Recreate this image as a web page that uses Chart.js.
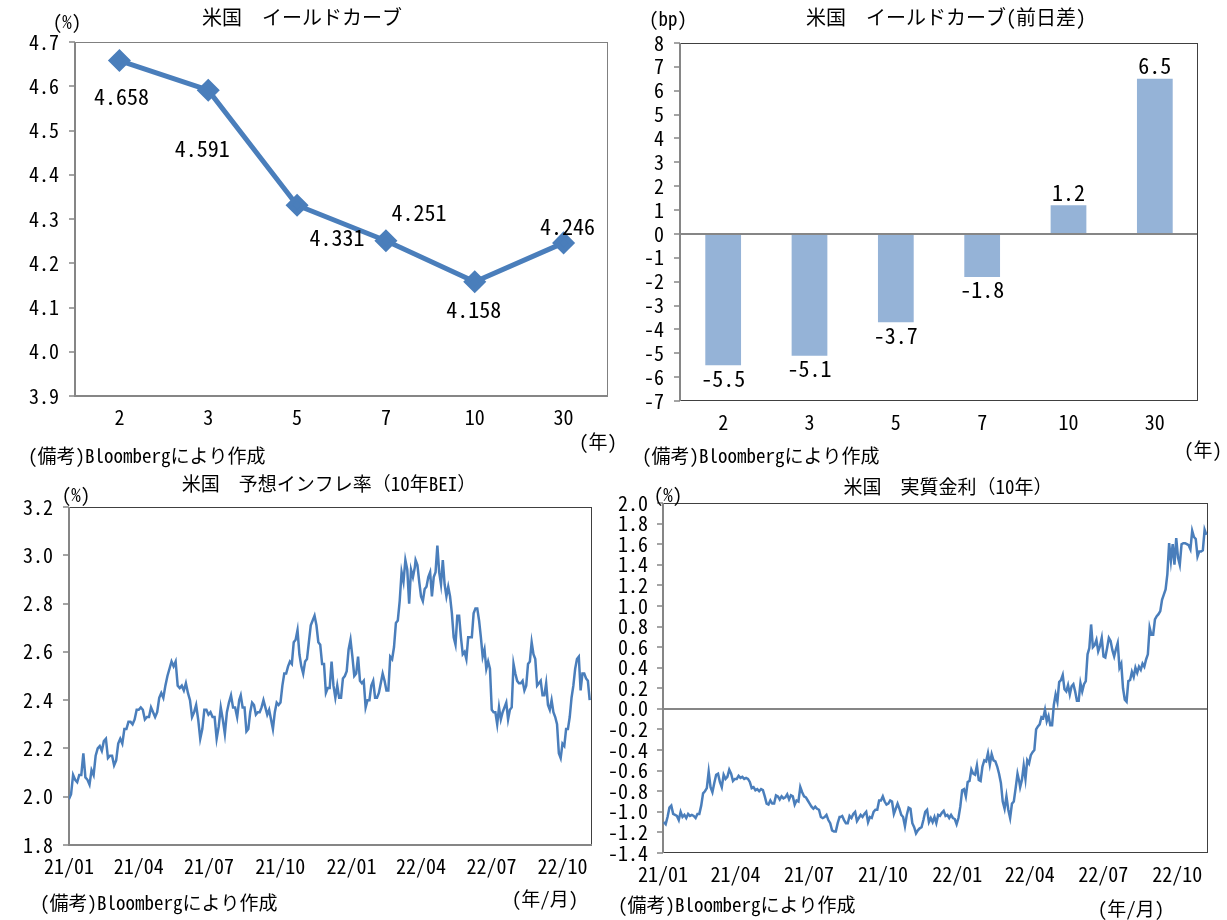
<!DOCTYPE html>
<html lang="ja">
<head>
<meta charset="utf-8">
<script src="https://cdn.jsdelivr.net/npm/chart.js@4.4.1/dist/chart.umd.min.js"></script>
<style>
  body { margin: 0; background: #fff; }
  #page { position: relative; width: 1227px; height: 920px; overflow: hidden;
          font-family: 'Noto Sans Mono CJK JP', 'Noto Sans CJK JP', sans-serif; color: #000; }
  canvas { position: absolute; }
  .t { position: absolute; white-space: nowrap; font-size: 19px; line-height: 1; transform: translate(-50%, -50%); }
  .l { position: absolute; white-space: nowrap; font-size: 19px; line-height: 1; transform: translateY(-50%); }
  .big { font-size: 20px; }
</style>
</head>
<body>
<div id="page">
  <canvas id="curve" width="615" height="460" style="left:0;top:0"></canvas>
  <canvas id="change" width="617" height="460" style="left:610px;top:0"></canvas>
  <canvas id="bei" width="610" height="460" style="left:0;top:460px"></canvas>
  <canvas id="real" width="617" height="460" style="left:610px;top:460px"></canvas>

  <div class="t big" style="left:302px;top:17px">米国　イールドカーブ</div>
  <div class="t" style="left:67px;top:20px">(%)</div>
  <div class="t" style="left:598px;top:440px">(年)</div>
  <div class="l" style="left:28px;top:454px">(備考)Bloombergにより作成</div>

  <div class="t big" style="left:946px;top:17px">米国　イールドカーブ(前日差)</div>
  <div class="t" style="left:668px;top:17px">(bp)</div>
  <div class="t" style="left:1203px;top:448px">(年)</div>
  <div class="l" style="left:642px;top:454px">(備考)Bloombergにより作成</div>

  <div class="t" style="left:329px;top:482px">米国　予想インフレ率（10年BEI）</div>
  <div class="t" style="left:76px;top:493px">(%)</div>
  <div class="t" style="left:545px;top:897px">(年/月)</div>
  <div class="l" style="left:40px;top:901px">(備考)Bloombergにより作成</div>

  <div class="t" style="left:948px;top:485px">米国　実質金利（10年）</div>
  <div class="t" style="left:668px;top:493px">(%)</div>
  <div class="t" style="left:1131px;top:907px">(年/月)</div>
  <div class="l" style="left:618px;top:903px">(備考)Bloombergにより作成</div>
</div>
<script>
// yield curve
const maturities = ['2', '3', '5', '7', '10', '30'];
const yields = [4.658, 4.591, 4.331, 4.251, 4.158, 4.246];
const yieldChange = [-5.5, -5.1, -3.7, -1.8, 1.2, 6.5];

// time axis: days since 2021-01-01
const tickDays = [0, 90, 181, 273, 365, 455, 546, 638];
const tickLabels = ['21/01', '21/04', '21/07', '21/10', '22/01', '22/04', '22/07', '22/10'];

// 10y BEI in three stretches
const beiSpans = [[0, 220], [222, 447], [448, 673]];
const bei1 = [1.99, 2.01, 2.09, 2.07, 2.06, 2.09, 2.09, 2.18, 2.08, 2.07,
  2.05, 2.11, 2.09, 2.17, 2.20, 2.21, 2.19, 2.23, 2.24, 2.16,
  2.17, 2.17, 2.13, 2.15, 2.22, 2.24, 2.22, 2.28, 2.28, 2.31,
  2.31, 2.30, 2.32, 2.36, 2.36, 2.37, 2.36, 2.32, 2.33, 2.33,
  2.37, 2.35, 2.33, 2.35, 2.41, 2.43, 2.41, 2.46, 2.50, 2.53,
  2.56, 2.54, 2.56, 2.46, 2.45, 2.46, 2.44, 2.47, 2.43, 2.40,
  2.33, 2.35, 2.38, 2.32, 2.24, 2.28, 2.36, 2.36, 2.34, 2.35,
  2.33, 2.33, 2.24, 2.29, 2.37, 2.32, 2.26, 2.35, 2.39, 2.42,
  2.37, 2.37, 2.33, 2.40];
const bei2 = [2.42, 2.37, 2.37, 2.27, 2.28, 2.35, 2.39, 2.38, 2.34, 2.35,
  2.35, 2.37, 2.40, 2.37, 2.34, 2.36, 2.32, 2.28, 2.35, 2.39,
  2.38, 2.39, 2.46, 2.51, 2.51, 2.54, 2.56, 2.55, 2.64, 2.65,
  2.69, 2.59, 2.54, 2.51, 2.56, 2.57, 2.64, 2.71, 2.73, 2.75,
  2.71, 2.64, 2.63, 2.55, 2.55, 2.43, 2.45, 2.45, 2.56, 2.46,
  2.41, 2.46, 2.41, 2.41, 2.49, 2.50, 2.52, 2.61, 2.65, 2.58,
  2.50, 2.51, 2.58, 2.48, 2.47, 2.48, 2.37, 2.40, 2.40, 2.46,
  2.48, 2.41, 2.41, 2.43, 2.47, 2.51, 2.48, 2.44, 2.44, 2.58,
  2.57, 2.62, 2.72, 2.73, 2.81, 2.93, 2.89, 2.98, 2.94, 2.80,
  2.94, 2.91, 2.95];
const bei3 = [2.98, 2.96, 2.89, 2.83, 2.81, 2.86, 2.87, 2.91, 2.93, 2.83,
  2.91, 2.93, 3.04, 2.93, 2.88, 2.98, 2.88, 2.83, 2.87, 2.83,
  2.76, 2.66, 2.63, 2.75, 2.75, 2.66, 2.59, 2.60, 2.57, 2.66,
  2.66, 2.66, 2.76, 2.78, 2.78, 2.73, 2.66, 2.58, 2.61, 2.53,
  2.56, 2.53, 2.36, 2.35, 2.35, 2.30, 2.37, 2.32, 2.35, 2.37,
  2.39, 2.32, 2.36, 2.37, 2.55, 2.51, 2.48, 2.47, 2.47, 2.48,
  2.44, 2.46, 2.55, 2.56, 2.64, 2.59, 2.57, 2.46, 2.47, 2.48,
  2.42, 2.42, 2.47, 2.38, 2.36, 2.40, 2.35, 2.33, 2.30, 2.18,
  2.16, 2.22, 2.21, 2.28, 2.28, 2.33, 2.41, 2.46, 2.53, 2.57,
  2.58, 2.44, 2.51, 2.51, 2.49, 2.48, 2.40];

// 10y real yield
const realSpans = [[1, 219], [220, 442], [443, 674]];
const real1 = [-1.10, -1.12, -1.05, -0.96, -0.94, -1.02, -1.03, -1.04, -1.08, -1.00,
  -1.05, -1.03, -1.06, -1.02, -1.04, -1.03, -1.04, -1.06, -1.02, -1.02,
  -0.94, -0.82, -0.80, -0.77, -0.61, -0.76, -0.81, -0.72, -0.64, -0.63,
  -0.71, -0.76, -0.64, -0.68, -0.66, -0.59, -0.63, -0.70, -0.68, -0.68,
  -0.65, -0.67, -0.66, -0.68, -0.67, -0.68, -0.71, -0.77, -0.76, -0.79,
  -0.78, -0.80, -0.78, -0.79, -0.85, -0.92, -0.93, -0.89, -0.92, -0.92,
  -0.84, -0.85, -0.88, -0.85, -0.87, -0.86, -0.83, -0.88, -0.84, -0.85,
  -0.93, -0.89, -0.90, -0.76, -0.81, -0.85, -0.86, -0.89, -0.92, -0.95,
  -0.97, -0.95, -0.97, -0.98, -1.05, -1.06, -1.05, -1.03, -1.08, -1.11,
  -1.18, -1.19, -1.19, -1.11, -1.05];
const real2 = [-1.05, -1.04, -1.08, -1.11, -1.11, -1.04, -1.06, -1.02, -1.00, -1.09,
  -1.06, -1.03, -1.05, -1.02, -1.00, -1.10, -1.05, -1.06, -1.00, -0.98,
  -0.98, -0.89, -0.89, -0.85, -0.90, -0.93, -0.92, -0.89, -0.90, -1.02,
  -0.97, -0.92, -0.97, -1.03, -1.05, -1.14, -1.03, -0.96, -0.97, -1.11,
  -1.15, -1.21, -1.18, -1.16, -1.15, -1.08, -1.00, -0.98, -1.10, -1.06,
  -1.10, -1.05, -1.11, -1.03, -1.04, -1.01, -0.99, -1.04, -1.03, -1.06,
  -1.03, -1.06, -1.07, -1.12, -1.06, -0.95, -0.79, -0.78, -0.85, -0.71,
  -0.70, -0.59, -0.63, -0.64, -0.55, -0.69, -0.70, -0.56, -0.50, -0.51,
  -0.43, -0.54, -0.44, -0.50, -0.51, -0.56, -0.63, -0.72, -0.90, -0.97,
  -0.85, -0.98, -1.06, -0.92, -0.90, -0.77, -0.63, -0.71];
const real3 = [-0.76, -0.69, -0.55, -0.68, -0.50, -0.53, -0.45, -0.42, -0.40, -0.20,
  -0.17, -0.15, -0.08, -0.09, -0.01, -0.12, -0.07, -0.16, -0.16, 0.04,
  0.14, 0.07, 0.26, 0.28, 0.33, 0.19, 0.17, 0.23, 0.14, 0.22,
  0.24, 0.17, 0.08, 0.08, 0.25, 0.17, 0.24, 0.27, 0.53, 0.59,
  0.82, 0.60, 0.62, 0.67, 0.56, 0.61, 0.69, 0.51, 0.50, 0.59,
  0.69, 0.66, 0.57, 0.51, 0.58, 0.64, 0.40, 0.44, 0.20, 0.09,
  0.07, 0.27, 0.28, 0.36, 0.31, 0.40, 0.35, 0.41, 0.38, 0.44,
  0.41, 0.48, 0.53, 0.79, 0.72, 0.72, 0.87, 0.90, 0.92, 0.95,
  1.06, 1.11, 1.16, 1.31, 1.61, 1.44, 1.60, 1.40, 1.66, 1.47,
  1.40, 1.60, 1.61, 1.61, 1.60, 1.59, 1.55, 1.73, 1.67, 1.65,
  1.48, 1.53, 1.53, 1.54, 1.74, 1.69];

const FONT = "'Noto Sans Mono CJK JP', 'Noto Sans CJK JP', sans-serif";
const BLUE = '#4A7EBB';
const AXIS = '#868686';
Chart.defaults.font.family = FONT;
Chart.defaults.font.size = 20;
Chart.defaults.color = '#000';
Chart.defaults.animation = false;

function toPoints(segs, spans) {
  const pts = [];
  segs.forEach((vals, k) => {
    const [d0, d1] = spans[k];
    vals.forEach((v, i) => pts.push({ x: d0 + (d1 - d0) * i / (vals.length - 1), y: v }));
  });
  return pts;
}

// plot frame: dark box, grey axis lines
const frame = {
  id: 'frame',
  beforeDatasetsDraw(chart, args, opts) {
    const { ctx, chartArea: a } = chart;
    ctx.save();
    ctx.strokeStyle = opts.boxColor || '#404040';
    ctx.lineWidth = 1;
    ctx.strokeRect(a.left + 0.5, a.top + 0.5, a.right - a.left - 1, a.bottom - a.top - 1);
    ctx.strokeStyle = AXIS;
    ctx.lineWidth = 2;
    ctx.beginPath();
    ctx.moveTo(a.left, a.top);
    ctx.lineTo(a.left, a.bottom);
    if (opts.bottomAxis) ctx.lineTo(a.right, a.bottom);
    ctx.stroke();
    ctx.restore();
  }
};

const valueLabels = {
  id: 'valueLabels',
  afterDatasetsDraw(chart, args, opts) {
    if (!opts.show) return;
    const ctx = chart.ctx;
    const meta = chart.getDatasetMeta(0);
    const data = chart.data.datasets[0].data;
    ctx.save();
    ctx.font = '22px ' + FONT;
    ctx.fillStyle = '#000';
    ctx.textAlign = 'center';
    ctx.textBaseline = 'middle';
    meta.data.forEach((el, i) => {
      const v = data[i];
      let x = el.x, y;
      if (opts.offsets) { x += opts.offsets[i][0]; y = el.y + opts.offsets[i][1]; }
      else y = el.y + (v >= 0 ? -opts.gap : opts.gap);
      ctx.fillText(v.toFixed(opts.digits), x, y);
    });
    ctx.restore();
  }
};

function yAxis(min, max, step, width, pad, zeroLine) {
  return {
    min, max,
    ticks: { stepSize: step, padding: pad, autoSkip: false,
             callback: v => step < 1 ? v.toFixed(1) : String(Math.round(v)) },
    grid: {
      drawTicks: true, tickLength: 6, tickColor: AXIS, tickWidth: 1.5,
      drawOnChartArea: !!zeroLine,
      color: c => (zeroLine && c.tick && Math.abs(c.tick.value) < 1e-9) ? AXIS : 'rgba(0,0,0,0)',
      lineWidth: 2
    },
    border: { display: false },
    afterFit(s) { s.width = width; }
  };
}

function timeAxis() {
  return {
    type: 'linear', min: 0, max: 676,
    grid: { display: false, drawTicks: false },
    border: { display: false },
    afterBuildTicks(s) { s.ticks = tickDays.map(v => ({ value: v })); },
    ticks: { autoSkip: false, maxRotation: 0, padding: 9,
             callback: v => tickLabels[tickDays.indexOf(v)] },
    afterFit(s) { s.height = 40; }
  };
}

new Chart(document.getElementById('curve'), {
  type: 'line',
  data: {
    labels: maturities,
    datasets: [{
      data: yields, borderColor: BLUE, borderWidth: 5, tension: 0,
      pointStyle: 'rectRot', pointRadius: 8, pointBackgroundColor: BLUE, pointBorderColor: BLUE
    }]
  },
  options: {
    responsive: false,
    layout: { autoPadding: false, padding: { left: 0, top: 42, right: 7, bottom: 24 } },
    plugins: {
      legend: { display: false }, tooltip: { enabled: false },
      frame: { boxColor: '#808080', bottomAxis: true },
      valueLabels: { show: true, digits: 3,
        offsets: [[2, 36], [-6, 58], [40, 32], [33, -28], [-1, 28], [4, -16]] }
    },
    scales: {
      x: { type: 'category', offset: true, grid: { display: false, drawTicks: false },
           border: { display: false }, ticks: { padding: 9 }, afterFit(s) { s.height = 40; } },
      y: yAxis(3.9, 4.7, 0.1, 75, 10, false)
    }
  },
  plugins: [frame, valueLabels]
});

new Chart(document.getElementById('change'), {
  type: 'bar',
  data: {
    labels: maturities,
    datasets: [{ data: yieldChange, backgroundColor: '#95B3D7', borderWidth: 0,
                 categoryPercentage: 1, barPercentage: 0.414 }]
  },
  options: {
    responsive: false,
    layout: { autoPadding: false, padding: { left: 0, top: 43, right: 29, bottom: 19 } },
    plugins: {
      legend: { display: false }, tooltip: { enabled: false },
      frame: { boxColor: '#404040', bottomAxis: false },
      valueLabels: { show: true, digits: 1, gap: 13 }
    },
    scales: {
      x: { grid: { display: false, drawTicks: false }, border: { display: false },
           ticks: { padding: 9 }, afterFit(s) { s.height = 40; } },
      y: yAxis(-7, 8, 1, 70, 10, true)
    }
  },
  plugins: [frame, valueLabels]
});

new Chart(document.getElementById('bei'), {
  type: 'line',
  data: {
    datasets: [{ data: toPoints([bei1, bei2, bei3], beiSpans), borderColor: BLUE,
                 borderWidth: 2.5, pointRadius: 0, tension: 0 }]
  },
  options: {
    responsive: false,
    layout: { autoPadding: false, padding: { left: 0, top: 47, right: 18, bottom: 35 } },
    plugins: { legend: { display: false }, tooltip: { enabled: false },
               frame: { boxColor: '#404040', bottomAxis: true } },
    scales: { x: timeAxis(), y: yAxis(1.8, 3.2, 0.2, 69, 10, false) }
  },
  plugins: [frame]
});

new Chart(document.getElementById('real'), {
  type: 'line',
  data: {
    datasets: [{ data: toPoints([real1, real2, real3], realSpans), borderColor: BLUE,
                 borderWidth: 2.5, pointRadius: 0, tension: 0 }]
  },
  options: {
    responsive: false,
    layout: { autoPadding: false, padding: { left: 0, top: 43, right: 19, bottom: 27 } },
    plugins: { legend: { display: false }, tooltip: { enabled: false },
               frame: { boxColor: '#404040', bottomAxis: false } },
    scales: { x: timeAxis(), y: yAxis(-1.4, 2.0, 0.2, 53, 9, true) }
  },
  plugins: [frame]
});
</script>
</body>
</html>
